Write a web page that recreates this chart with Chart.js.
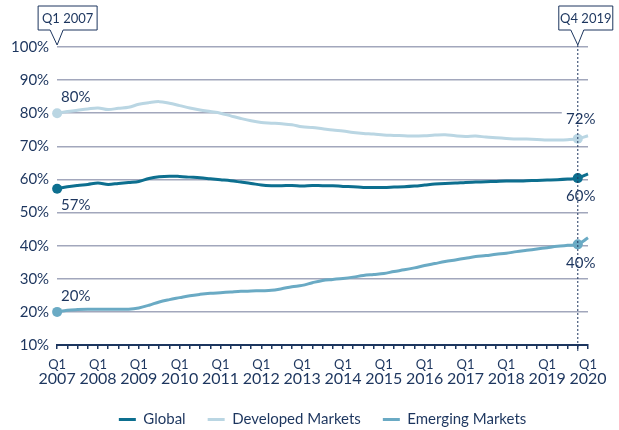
<!DOCTYPE html>
<html>
<head>
<meta charset="utf-8">
<script src="https://cdn.jsdelivr.net/npm/chart.js@4.4.0/dist/chart.umd.min.js"></script>
<style>
    html, body { margin: 0; padding: 0; background: #fff; }
    #wrap { position: relative; width: 619px; height: 430px; }
</style>
</head>
<body>
<div id="wrap"><canvas id="share_chart"></canvas></div>
<script>
// quarterly from Q1 2007 to Q1 2020
const years = [2007, 2008, 2009, 2010, 2011, 2012, 2013, 2014, 2015, 2016, 2017, 2018, 2019, 2020];
const quarters = ['Q1', 'Q2', 'Q3', 'Q4'];

const global_share = [
    57.2, 57.8, 58.2, 58.5, 58.9, 58.5, 58.8, 59.1, 59.4, 60.3, 60.8, 61.0, 60.9,
    60.7, 60.5, 60.2, 59.9, 59.6, 59.2, 58.8, 58.3, 58.1, 58.1, 58.2, 58.0, 58.2,
    58.1, 58.1, 57.9, 57.8, 57.6, 57.6, 57.6, 57.7, 57.8, 58.0, 58.3, 58.6, 58.8,
    58.9, 59.1, 59.2, 59.3, 59.4, 59.5, 59.5, 59.6, 59.7, 59.8, 59.9, 60.1, 60.4, 61.7
];
const developed_share = [
    80.0, 80.5, 80.9, 81.3, 81.6, 81.1, 81.5, 81.8, 82.7, 83.2, 83.5, 83.0, 82.3,
    81.6, 81.0, 80.5, 80.0, 79.2, 78.4, 77.7, 77.2, 77.0, 76.8, 76.5, 75.9, 75.7,
    75.3, 74.9, 74.6, 74.2, 73.9, 73.7, 73.4, 73.3, 73.2, 73.1, 73.2, 73.4, 73.5,
    73.2, 73.0, 73.1, 72.8, 72.6, 72.4, 72.2, 72.2, 72.1, 71.9, 71.9, 72.0, 72.3, 73.2
];
const emerging_share = [
    20.0, 20.5, 20.7, 20.8, 20.8, 20.8, 20.8, 20.8, 21.2, 22.0, 23.0, 23.7, 24.3,
    24.9, 25.3, 25.6, 25.8, 26.0, 26.2, 26.3, 26.4, 26.5, 27.0, 27.6, 28.0, 28.8,
    29.5, 29.8, 30.1, 30.5, 31.0, 31.3, 31.6, 32.2, 32.7, 33.3, 34.0, 34.6, 35.2,
    35.7, 36.2, 36.7, 37.0, 37.4, 37.7, 38.2, 38.6, 39.0, 39.4, 39.8, 40.1, 40.4, 42.4
];

const series_names = ['Global', 'Developed Markets', 'Emerging Markets'];
const start_label = 'Q1 2007';
const end_label = 'Q4 2019';

const labels = [];
for (const y of years) {
    for (const q of quarters) {
        if (y == 2020 && q != 'Q1') break;
        labels.push(q + ' ' + y);
    }
}

const NAVY = '#1c355e';
const FONT = 'Lato, "Open Sans", sans-serif';
const colors = ['#0d6f8f', '#bad6e3', '#6aaac4'];

const startIdx = labels.indexOf(start_label);
const endIdx = labels.indexOf(end_label);

const markerRadius = function (ctx) {
    return (ctx.dataIndex == startIdx || ctx.dataIndex == endIdx) ? 5 : 0;
}

// callouts, dotted marker line, value labels and the year row under the Q1 ticks
const annotations = {
    id: 'annotations',
    afterDatasetsDraw(chart) {
        const ctx = chart.ctx;
        const xs = chart.scales.x;
        const top = chart.chartArea.top;
        const bottom = chart.chartArea.bottom;

        const endX = xs.getPixelForValue(endIdx);
        const startX = xs.getPixelForValue(startIdx);

        ctx.save();
        // value labels
        ctx.font = '15px ' + FONT;
        ctx.fillStyle = NAVY;
        ctx.textBaseline = 'middle';
        const offs = [16, -16, -16];
        const endOffs = [18, -20, 19];
        chart.data.datasets.forEach((ds, i) => {
            const meta = chart.getDatasetMeta(i);
            const p0 = meta.data[startIdx];
            ctx.textAlign = 'left';
            ctx.fillText(Math.round(ds.data[startIdx]) + '%', p0.x + 4, p0.y + offs[i]);
            const p1 = meta.data[endIdx];
            const txt = Math.round(ds.data[endIdx]) + '%';
            if (i == 1) {
                ctx.fillStyle = '#fff';
                ctx.fillRect(p1.x - 16, p1.y + endOffs[i] - 7, 34, 13);
                ctx.fillStyle = NAVY;
            }
            ctx.textAlign = 'center';
            ctx.fillText(txt, p1.x + 3, p1.y + endOffs[i]);
        });

        // dotted line at last label
        ctx.strokeStyle = NAVY;
        ctx.lineWidth = 1;
        ctx.setLineDash([2, 2]);
        ctx.beginPath();
        ctx.moveTo(endX, top - 2);
        ctx.lineTo(endX, bottom + 6);
        ctx.stroke();
        ctx.setLineDash([]);

        // callout boxes
        const callout = function (text, tipX, boxL, boxR) {
            const boxT = 6, boxB = 30, tipY = top - 2;
            ctx.beginPath();
            ctx.moveTo(boxL, boxT);
            ctx.lineTo(boxR, boxT);
            ctx.lineTo(boxR, boxB);
            ctx.lineTo(tipX + 6, boxB);
            ctx.lineTo(tipX, tipY);
            ctx.lineTo(tipX - 7, boxB);
            ctx.lineTo(boxL, boxB);
            ctx.closePath();
            ctx.fillStyle = '#fff';
            ctx.fill();
            ctx.strokeStyle = NAVY;
            ctx.lineWidth = 1;
            ctx.stroke();
            ctx.fillStyle = NAVY;
            ctx.font = '13px ' + FONT;
            ctx.textAlign = 'center';
            ctx.textBaseline = 'middle';
            ctx.fillText(text, (boxL + boxR) / 2, (boxT + boxB) / 2 + 1);
        }
        callout(start_label, startX, startX - 19, startX + 40);
        callout(end_label, endX, endX - 19, endX + 35);

        // years under the Q1 ticks
        ctx.font = '16px ' + FONT;
        ctx.fillStyle = NAVY;
        ctx.textAlign = 'center';
        ctx.textBaseline = 'middle';
        labels.forEach((l, i) => {
            if (l.startsWith('Q1')) {
                ctx.fillText(l.split(' ')[1], xs.getPixelForValue(i), bottom + 34);
            }
        });
        ctx.restore();
    }
}

const datasets = [global_share, developed_share, emerging_share].map((d, i) => {
    return {
        label: series_names[i],
        data: d,
        borderColor: colors[i],
        backgroundColor: colors[i],
        borderWidth: 3,
        tension: 0.35,
        pointRadius: markerRadius,
        pointHoverRadius: markerRadius,
        pointBorderWidth: 0,
        order: i
    }
});

new Chart(document.getElementById('share_chart'), {
    type: 'line',
    data: {
        labels: labels,
        datasets: datasets
    },
    plugins: [annotations],
    options: {
        responsive: true,
        maintainAspectRatio: false,
        animation: false,
        layout: {
            padding: { top: 47, right: 31, left: 3, bottom: -7 }
        },
        plugins: {
            tooltip: { enabled: false },
            legend: {
                display: true,
                position: 'bottom',
                fullSize: false,
                labels: {
                    usePointStyle: true,
                    pointStyle: 'line',
                    pointStyleWidth: 17,
                    boxHeight: 15,
                    color: NAVY,
                    padding: 22,
                    font: { family: FONT, size: 15 },
                    generateLabels: function (chart) {
                        const items = Chart.defaults.plugins.legend.labels.generateLabels(chart);
                        items.forEach((it, i) => {
                            it.lineWidth = 3;
                            it.strokeStyle = colors[i];
                            it.fillStyle = colors[i];
                        });
                        return items;
                    }
                }
            }
        },
        scales: {
            x: {
                type: 'category',
                offset: false,
                border: { display: true, color: NAVY, width: 2 },
                grid: {
                    drawOnChartArea: false,
                    drawTicks: true,
                    tickLength: 4,
                    color: NAVY,
                    lineWidth: 1.5
                },
                ticks: {
                    autoSkip: false,
                    maxRotation: 0,
                    color: NAVY,
                    padding: 8,
                    font: { family: FONT, size: 13 },
                    callback: function (val, idx) {
                        return labels[idx].startsWith('Q1') ? 'Q1' : '';
                    }
                },
                afterFit: function (scale) {
                    scale.height = 45;
                }
            },
            y: {
                min: 10,
                max: 100,
                border: { display: false },
                grid: {
                    color: '#a2a7bc',
                    lineWidth: 1.5,
                    drawTicks: false
                },
                ticks: {
                    stepSize: 10,
                    color: NAVY,
                    padding: 8,
                    font: { family: FONT, size: 15 },
                    callback: v => v + '%'
                }
            }
        }
    }
});
</script>
</body>
</html>
